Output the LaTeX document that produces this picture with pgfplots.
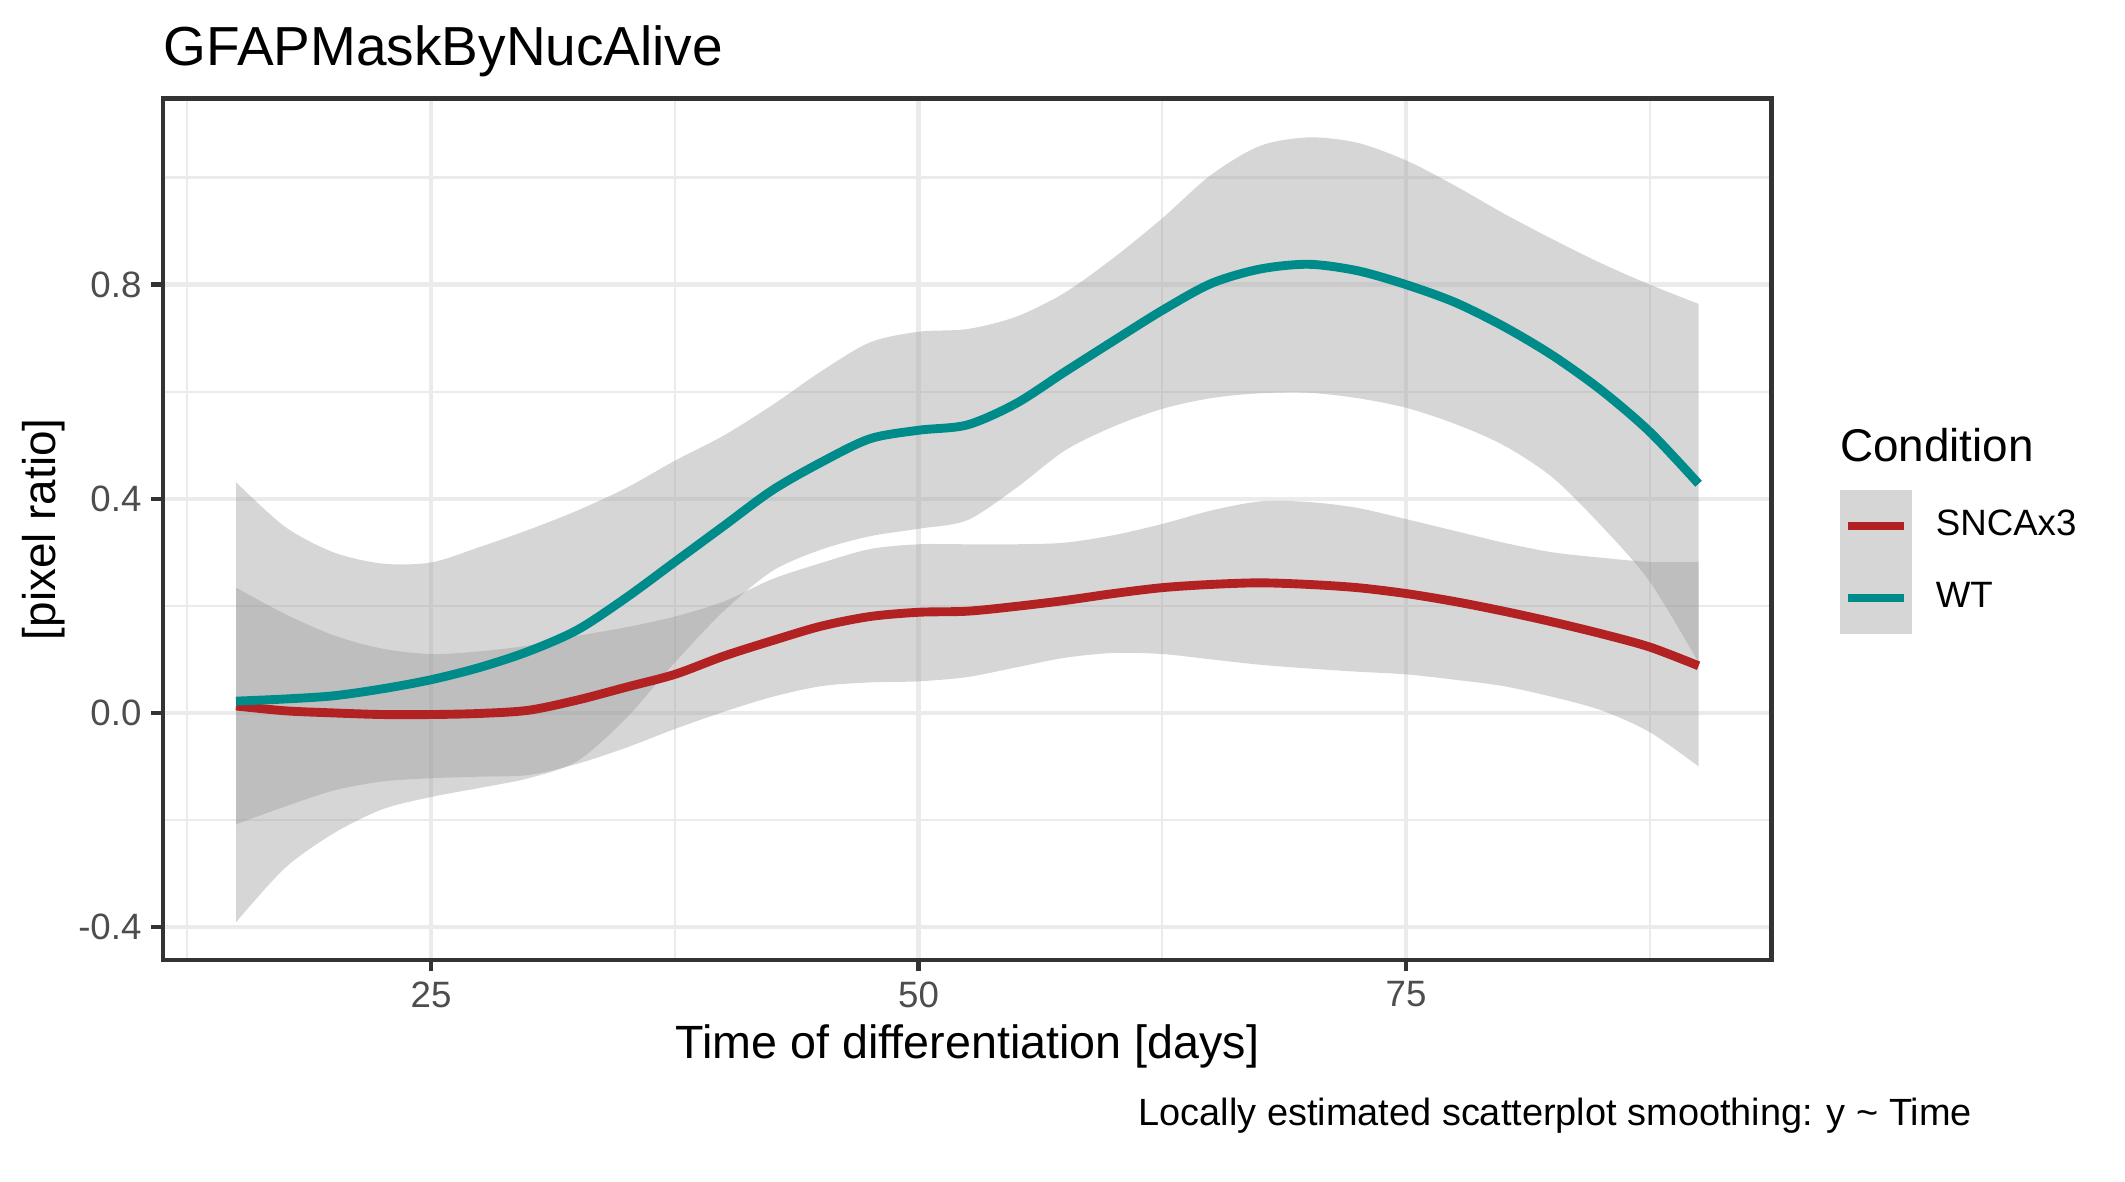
\documentclass[border=0pt]{standalone}
\usepackage{fontspec}
\setmainfont{Liberation Sans}
\usepackage{pgfplots}
\usepackage{pgfplotstable}
\pgfplotsset{compat=1.18}
\usepgfplotslibrary{fillbetween}
\definecolor{snca}{HTML}{B22222}
\definecolor{wt}{HTML}{008B8B}
\definecolor{bandgrey}{HTML}{999999}
\definecolor{keygrey}{HTML}{D6D6D6}
\definecolor{gridgrey}{HTML}{EBEBEB}
\definecolor{grey20}{HTML}{333333}
\definecolor{grey30}{HTML}{4D4D4D}

\pgfplotstableread{
x    wt     wtlo    wthi   sn      snlo    snhi
15   0.022  -0.391  0.431  0.013   -0.208  0.234
17.5 0.026  -0.290  0.348  0.004   -0.175  0.185
20   0.032  -0.225  0.300  0.000   -0.145  0.145
22.5 0.045  -0.180  0.279  -0.003  -0.128  0.120
25   0.062  -0.157  0.281  -0.003  -0.122  0.110
27.5 0.085  -0.140  0.310  -0.001  -0.119  0.115
30   0.115  -0.122  0.342  0.005   -0.116  0.126
32.5 0.155  -0.090  0.378  0.024   -0.095  0.144
35   0.215  -0.010  0.420  0.048   -0.065  0.160
37.5 0.282  0.094   0.471  0.072   -0.030  0.180
40   0.349  0.190   0.518  0.106   0.002   0.208
42.5 0.416  0.265   0.575  0.135   0.030   0.250
45   0.468  0.305   0.638  0.162   0.050   0.280
47.5 0.512  0.330   0.692  0.180   0.057   0.306
50   0.528  0.344   0.712  0.188   0.059   0.315
52.5 0.538  0.360   0.717  0.190   0.067   0.315
55   0.578  0.420   0.740  0.199   0.085   0.315
57.5 0.637  0.490   0.785  0.210   0.103   0.318
60   0.695  0.535   0.850  0.223   0.112   0.332
62.5 0.752  0.568   0.924  0.234   0.110   0.353
65   0.802  0.588   1.005  0.240   0.100   0.378
67.5 0.829  0.597   1.059  0.243   0.090   0.395
70   0.838  0.598   1.075  0.240   0.083   0.394
72.5 0.826  0.588   1.065  0.234   0.077   0.383
75   0.800  0.570   1.032  0.223   0.072   0.362
77.5 0.767  0.540   0.985  0.208   0.062   0.340
80   0.722  0.500   0.933  0.190   0.050   0.318
82.5 0.668  0.440   0.885  0.170   0.030   0.300
85   0.603  0.350   0.840  0.148   0.005   0.290
87.5 0.525  0.245   0.800  0.123   -0.036  0.282
90   0.428  0.094   0.764  0.088   -0.100  0.282
}\data

\begin{document}
\begin{tikzpicture}
\path (0,0) rectangle (510pt,283.44pt);
\begin{axis}[
  at={(39.1pt,53.04pt)}, anchor=south west,
  width=386.1pt, height=206.8pt, scale only axis,
  xmin=11.25, xmax=93.75, ymin=-0.4615, ymax=1.148,
  xtick={25,50,75}, xticklabels={25,50,75},
  ytick={-0.4,0,0.4,0.8}, yticklabels={-0.4,0.0,0.4,0.8},
  minor xtick={12.5,37.5,62.5,87.5},
  minor ytick={-0.2,0.2,0.6,1.0},
  grid=both,
  major grid style={gridgrey, line width=1.07pt},
  minor grid style={gridgrey, line width=0.53pt},
  axis line style={grey20, line width=1.07pt},
  tick style={grey20, line width=1.07pt},
  major tick length=2.75pt, minor tick length=0pt,
  tick align=outside, tick pos=left,
  xticklabel style={font=\fontsize{8.8}{10}\selectfont, text=grey30, inner sep=0pt, yshift=-2.2pt},
  yticklabel style={font=\fontsize{8.8}{10}\selectfont, text=grey30, inner sep=0pt, xshift=-2.2pt},
  legend style={at={(1.042,0.5464)}, anchor=north west, draw=none, fill=none,
    inner sep=0pt, row sep=0pt, column sep=5.7pt,
    nodes={inner sep=0pt, anchor=west},
    font=\fontsize{8.8}{10}\selectfont},
  legend cell align=left,
  legend image code/.code={
    \path[fill=keygrey, draw=none] (0pt,-8.64pt) rectangle (17.28pt,8.64pt);
    \draw[line cap=butt] (2pt,0pt) -- (15.28pt,0pt);
  },
]
\addplot[name path=snhi, draw=none, smooth, forget plot] table[x=x, y=snhi] {\data};
\addplot[name path=snlo, draw=none, smooth, forget plot] table[x=x, y=snlo] {\data};
\addplot[fill=bandgrey, fill opacity=0.4, draw=none, forget plot] fill between[of=snhi and snlo];
\addplot[snca, line width=2.13pt, smooth, line join=round] table[x=x, y=sn] {\data};
\addlegendentry{SNCAx3}
\addplot[name path=wthi, draw=none, smooth, forget plot] table[x=x, y=wthi] {\data};
\addplot[name path=wtlo, draw=none, smooth, forget plot] table[x=x, y=wtlo] {\data};
\addplot[fill=bandgrey, fill opacity=0.4, draw=none, forget plot] fill between[of=wthi and wtlo];
\addplot[wt, line width=2.13pt, smooth, line join=round] table[x=x, y=wt] {\data};
\addlegendentry{WT}
\end{axis}
\node[anchor=base west, font=\fontsize{13.2}{15}\selectfont, inner sep=0pt] at (39.1pt,267.8pt) {GFAPMaskByNucAlive};
\node[rotate=90, font=\fontsize{11}{13}\selectfont, inner sep=0pt] at (10.4pt,156.4pt) {[pixel ratio]};
\node[font=\fontsize{11.2}{13}\selectfont, inner sep=0pt] at (232.15pt,32.3pt) {Time of differentiation [days]};
\node[anchor=east, font=\fontsize{9.1}{10}\selectfont, inner sep=0pt] at (473.5pt,15.6pt) {Locally estimated scatterplot smoothing: y \textasciitilde{} Time};
\node[anchor=west, font=\fontsize{11}{13}\selectfont, inner sep=0pt] at (441.4pt,176.5pt) {Condition};
\end{tikzpicture}
\end{document}
